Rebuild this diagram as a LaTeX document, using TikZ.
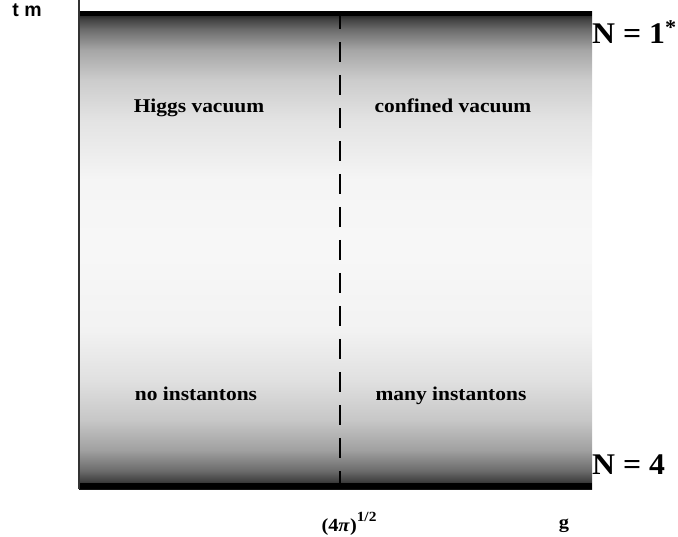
\documentclass[tikz,border=0pt]{standalone}
\usepackage{fontspec}
\setmainfont{Liberation Serif}
\newfontfamily\labfont[FakeStretch=1.1]{Liberation Serif Bold}
\newfontfamily\nfont[FakeStretch=1.06]{Liberation Serif Bold}
\newfontfamily\sansb{Liberation Sans Bold}
\pgfdeclareverticalshading{bgshade}{100bp}{%
gray(0bp)=(0.08); gray(25bp)=(0.08);
gray(25.94bp)=(0.27); gray(26.99bp)=(0.43); gray(29.09bp)=(0.63);
gray(32.23bp)=(0.78); gray(36.43bp)=(0.88); gray(41.67bp)=(0.95);
gray(50bp)=(0.97);
gray(57.39bp)=(0.96); gray(63.68bp)=(0.89); gray(67.87bp)=(0.80);
gray(71.02bp)=(0.65); gray(73.11bp)=(0.43); gray(74.16bp)=(0.27);
gray(75bp)=(0.08); gray(100bp)=(0.08)}
\begin{document}
\begin{tikzpicture}[x=1pt,y=-1pt,
  region/.style={font=\labfont\fontsize{19.5}{20}\selectfont, anchor=base, inner sep=0pt},
  nlabel/.style={font=\nfont\fontsize{30}{32}\selectfont, anchor=base west, inner sep=0pt},
  axlabel/.style={font=\labfont\fontsize{18.5}{19}\selectfont, anchor=base, inner sep=0pt},
  divider/.style={line width=2pt, dash pattern=on 20pt off 13pt}]
\useasboundingbox (0,0) rectangle (678,537);
% shaded field
\shade[shading=bgshade] (79,12) rectangle (592,489);
\fill[black] (79,11) rectangle (592,16);
\fill[black] (79,483) rectangle (592,489);
% left axis
\coordinate (axtop) at (79,0);
\coordinate (axbot) at (79,489);
\draw[line width=1.5pt, black!80] (axtop) -- (axbot);
% dashed divider
\coordinate (dtop) at (340,16);
\coordinate (dbot) at (340,483);
\draw[divider, dash phase=7pt] (dtop) -- (dbot);
% labels
\node[font=\sansb\fontsize{19.5}{20}\selectfont, anchor=base, inner sep=0pt] (tm) at (27,17) {t m};
\node[nlabel] (n1) at (592,44) {N = 1\textsuperscript{*}};
\node[nlabel] (n4) at (592,475) {N = 4};
\node[region] (higgs) at (199,113) {Higgs vacuum};
\node[region] (conf) at (453,113) {confined vacuum};
\node[region] (noinst) at (196,401) {no instantons};
\node[region] (many) at (451,401) {many instantons};
\node[axlabel] (pi) at (349,531) {(4\textit{π})\raisebox{10pt}{\fontsize{14}{14}\selectfont 1/2}};
\node[axlabel] (g) at (564,528) {g};
\end{tikzpicture}
\end{document}
